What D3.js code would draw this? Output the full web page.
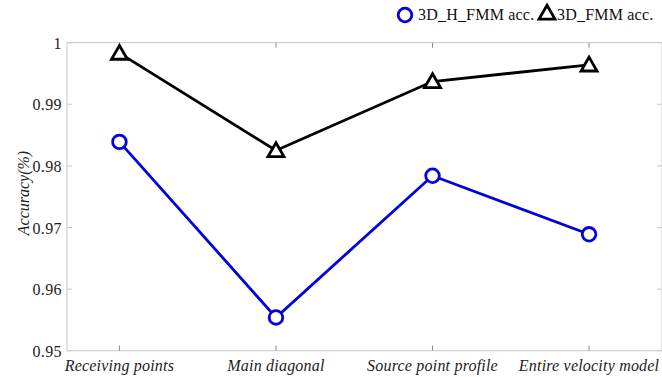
<!DOCTYPE html>
<html><head><meta charset="utf-8">
<script src="https://cdn.jsdelivr.net/npm/d3@7"></script>
<style>body{margin:0;background:#fff}svg{display:block}</style>
</head><body><svg id="c" width="662" height="377"></svg>
<script>
const categories = ["Receiving points","Main diagonal","Source point profile","Entire velocity model"];
const hfmm = [0.9839, 0.9554, 0.9784, 0.9689];
const fmm = [0.9983, 0.9825, 0.9937, 0.9964];
const yTicks = [0.95, 0.96, 0.97, 0.98, 0.99, 1];
const seriesNames = ["3D_H_FMM acc.", "3D_FMM acc."];

const svg = d3.select("#c");
const FF = "Liberation Serif";
const L = 67, R = 662, T = 42.7, B = 350.7;
const x = d3.scaleLinear().domain([0.665, 4.466]).range([L, R]);
const y = d3.scaleLinear().domain([0.95, 1]).range([B, T]);
const axisCol = "#c8c8c8";

svg.append("rect").attr("x", L).attr("y", T).attr("width", R - L).attr("height", B - T)
  .attr("fill", "none").attr("stroke", axisCol).attr("stroke-width", 1);

function stext(g, tx, ty, str, anchor, italic, ls) {
  return g.append("text").attr("x", tx).attr("y", ty)
    .attr("text-anchor", anchor).attr("font-family", FF).attr("font-size", 16)
    .attr("letter-spacing", ls || 0)
    .attr("font-style", italic ? "italic" : "normal").attr("fill", "#222").text(str);
}

const ya = svg.append("g");
yTicks.forEach(t => {
  ya.append("line").attr("x1", L).attr("x2", L + 5).attr("y1", y(t)).attr("y2", y(t)).attr("stroke", axisCol);
  ya.append("line").attr("x1", R - 5).attr("x2", R).attr("y1", y(t)).attr("y2", y(t)).attr("stroke", axisCol);
  stext(ya, L - 5, y(t) + 6, t === 1 ? "1" : d3.format(".2f")(t), "end", false, 0.4);
});
categories.forEach((c, i) => {
  const xx = x(i + 1);
  svg.append("line").attr("x1", xx).attr("x2", xx).attr("y1", B).attr("y2", B - 5).attr("stroke", "#888");
  svg.append("line").attr("x1", xx).attr("x2", xx).attr("y1", T).attr("y2", T + 5).attr("stroke", "#888");
  stext(svg, xx, 371, c, "middle", true, 0.2);
});
svg.append("text").attr("transform", "translate(29,193) rotate(-90)").attr("text-anchor", "middle")
  .attr("font-family", FF).attr("font-style", "italic").attr("font-size", 16).attr("fill", "#222").text("Accuracy(%)");

const line = d3.line().x((d, i) => x(i + 1)).y(d => y(d));
const tri = d3.symbol().type(d3.symbolTriangle).size(110);

function drawTri(g, cx, cy) {
  g.append("path").attr("d", tri()).attr("transform", `translate(${cx},${cy + 1.5})`)
    .attr("fill", "#fff").attr("stroke", "#000").attr("stroke-width", 2.8);
}
function drawCirc(g, cx, cy) {
  g.append("circle").attr("cx", cx).attr("cy", cy).attr("r", 6.8)
    .attr("fill", "#fff").attr("stroke", "#0000e0").attr("stroke-width", 2.8);
}

svg.append("path").datum(fmm).attr("d", line).attr("fill", "none").attr("stroke", "#000").attr("stroke-width", 2.8);
svg.append("path").datum(hfmm).attr("d", line).attr("fill", "none").attr("stroke", "#0000e0").attr("stroke-width", 2.8);
fmm.forEach((v, i) => drawTri(svg, x(i + 1), y(v)));
hfmm.forEach((v, i) => drawCirc(svg, x(i + 1), y(v)));

const lg = svg.append("g");
drawCirc(lg, 405, 15);
stext(lg, 418, 20, seriesNames[0], "start", false, 0.2).attr("fill", "#111");
drawTri(lg, 547, 13);
stext(lg, 557, 20, seriesNames[1], "start", false, 0.2).attr("fill", "#111");
</script></body></html>
